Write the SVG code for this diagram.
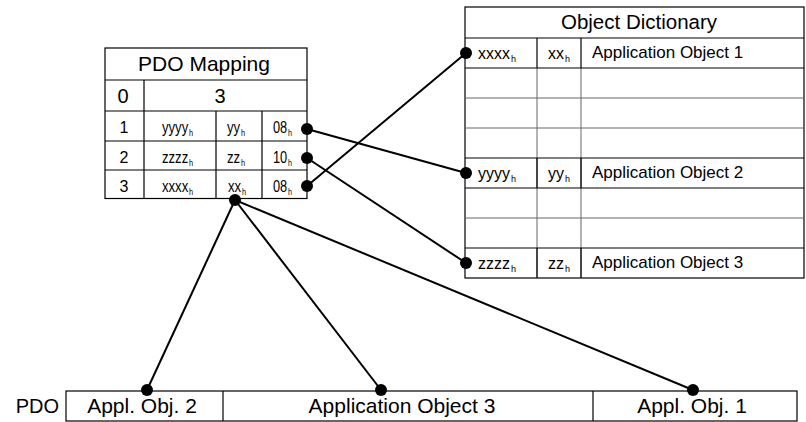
<svg xmlns="http://www.w3.org/2000/svg" width="806" height="422" viewBox="0 0 806 422">
<style>
text{font-family:"Liberation Sans",Arial,sans-serif;fill:#000}
.b{fill:#fff;stroke:#000;stroke-width:1.2}
.l{stroke:#000;stroke-width:1.2;fill:none}
.g{stroke:#666;stroke-width:1;fill:none}
.c{stroke:#000;stroke-width:2;fill:none}
.t{font-size:16px}
.s{font-size:16px}
.h{font-size:9px}
.m{text-anchor:middle}
.big{font-size:21px}
</style>
<defs>
<marker id="dot" markerWidth="14" markerHeight="14" refX="7" refY="7" markerUnits="userSpaceOnUse"><circle cx="7" cy="7" r="6" fill="#000"/></marker>
</defs>
<g id="pdo-mapping">
<rect class="b" x="105" y="48" width="202" height="150.5"/>
<line class="l" x1="105" y1="80" x2="307" y2="80"/>
<line class="l" x1="105" y1="111" x2="307" y2="111"/>
<line class="l" x1="105" y1="141" x2="307" y2="141"/>
<line class="l" x1="105" y1="170" x2="307" y2="170"/>
<line class="l" x1="144" y1="80" x2="144" y2="198.5"/>
<line class="l" x1="216" y1="111" x2="216" y2="198.5"/>
<line class="l" x1="262" y1="111" x2="262" y2="198.5"/>
<text x="204" y="71" class="m big">PDO Mapping</text>
<text x="123" y="103" class="m" font-size="20">0</text>
<text x="220" y="103" class="m" font-size="20">3</text>
<text x="124" y="133" class="m t">1</text>
<text x="124" y="163" class="m t">2</text>
<text x="124" y="192" class="m t">3</text>
<text class="t" transform="translate(162,133) scale(0.82,1)">yyyy<tspan class="h" dx="1" dy="3">h</tspan></text>
<text class="t" transform="translate(162,163) scale(0.82,1)">zzzz<tspan class="h" dx="1" dy="3">h</tspan></text>
<text class="t" transform="translate(162,192) scale(0.82,1)">xxxx<tspan class="h" dx="1" dy="3">h</tspan></text>
<text class="t" transform="translate(227,133) scale(0.82,1)">yy<tspan class="h" dx="1" dy="3">h</tspan></text>
<text class="t" transform="translate(227,163) scale(0.82,1)">zz<tspan class="h" dx="1" dy="3">h</tspan></text>
<text class="t" transform="translate(228,192) scale(0.82,1)">xx<tspan class="h" dx="1" dy="3">h</tspan></text>
<text class="t" transform="translate(273,133) scale(0.8,1)">08<tspan class="h" dx="1" dy="3">h</tspan></text>
<text class="t" transform="translate(273,163) scale(0.8,1)">10<tspan class="h" dx="1" dy="3">h</tspan></text>
<text class="t" transform="translate(273,192) scale(0.8,1)">08<tspan class="h" dx="1" dy="3">h</tspan></text>
</g>
<g id="object-dictionary">
<rect class="b" x="465" y="7" width="339" height="271"/>
<line class="g" x1="465" y1="98" x2="804" y2="98"/>
<line class="g" x1="465" y1="128" x2="804" y2="128"/>
<line class="g" x1="465" y1="218" x2="804" y2="218"/>
<line class="g" x1="537" y1="68" x2="537" y2="278"/>
<line class="g" x1="581" y1="68" x2="581" y2="278"/>
<line class="l" x1="465" y1="38" x2="804" y2="38"/>
<line class="l" x1="465" y1="68" x2="804" y2="68"/>
<line class="l" x1="465" y1="158" x2="804" y2="158"/>
<line class="l" x1="465" y1="188" x2="804" y2="188"/>
<line class="l" x1="465" y1="248" x2="804" y2="248"/>
<line class="l" x1="537" y1="38" x2="537" y2="68"/>
<line class="l" x1="581" y1="38" x2="581" y2="68"/>
<line class="l" x1="537" y1="158" x2="537" y2="188"/>
<line class="l" x1="581" y1="158" x2="581" y2="188"/>
<line class="l" x1="537" y1="248" x2="537" y2="278"/>
<line class="l" x1="581" y1="248" x2="581" y2="278"/>
<text x="639" y="29" class="m" font-size="20.5">Object Dictionary</text>
<text x="478" y="59" class="s">xxxx<tspan class="h" dx="1" dy="3">h</tspan></text>
<text x="548" y="59" class="s">xx<tspan class="h" dx="1" dy="3">h</tspan></text>
<text x="592" y="58" font-size="17">Application Object 1</text>
<text x="478" y="179" class="s">yyyy<tspan class="h" dx="1" dy="3">h</tspan></text>
<text x="548" y="179" class="s">yy<tspan class="h" dx="1" dy="3">h</tspan></text>
<text x="592" y="178" font-size="17">Application Object 2</text>
<text x="478" y="269" class="s">zzzz<tspan class="h" dx="1" dy="3">h</tspan></text>
<text x="548" y="269" class="s">zz<tspan class="h" dx="1" dy="3">h</tspan></text>
<text x="592" y="268" font-size="17">Application Object 3</text>
</g>
<g id="pdo">
<text x="59" y="413" font-size="20" text-anchor="end">PDO</text>
<rect class="b" x="66" y="391" width="731" height="30"/>
<line class="l" x1="223" y1="391" x2="223" y2="421"/>
<line class="l" x1="593" y1="391" x2="593" y2="421"/>
<text x="142" y="413" class="m big">Appl. Obj. 2</text>
<text x="402" y="413" class="m big">Application Object 3</text>
<text x="692" y="413" class="m big">Appl. Obj. 1</text>
</g>
<g id="connectors">
<line class="c" x1="307" y1="129" x2="466" y2="173" marker-start="url(#dot)" marker-end="url(#dot)"/>
<line class="c" x1="307" y1="158" x2="466" y2="263" marker-start="url(#dot)" marker-end="url(#dot)"/>
<line class="c" x1="307" y1="186" x2="466" y2="53" marker-start="url(#dot)" marker-end="url(#dot)"/>
<line class="c" x1="235" y1="200" x2="147" y2="390" marker-start="url(#dot)" marker-end="url(#dot)"/>
<line class="c" x1="235" y1="200" x2="381" y2="390" marker-end="url(#dot)"/>
<line class="c" x1="235" y1="200" x2="693" y2="390" marker-end="url(#dot)"/>
</g>
</svg>
